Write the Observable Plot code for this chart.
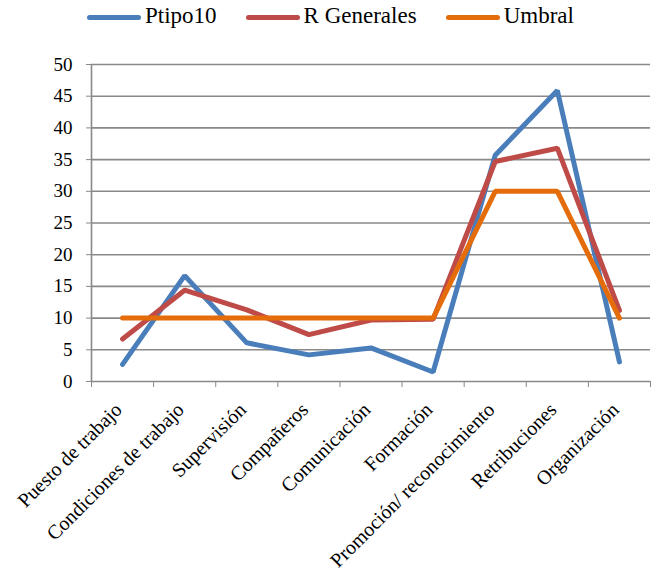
<!DOCTYPE html>
<html><head><meta charset="utf-8">
<script src="https://cdn.jsdelivr.net/npm/d3@7"></script>
<script src="https://cdn.jsdelivr.net/npm/@observablehq/plot@0.6"></script>
<style>
body{margin:0;background:#fff;font-family:'Liberation Serif','Times New Roman',Times,'DejaVu Serif',serif;}
#legend{height:35px;box-sizing:border-box;padding-bottom:3px;display:flex;align-items:center;padding-left:87px;font-size:23px;color:#000;}
.item{display:flex;align-items:center;margin-right:29px;}
.sw{width:54px;height:5px;border-radius:3px;margin-right:4px;margin-top:2px;}
</style></head><body>
<div id="legend"></div>
<div id="chart"></div>
<script>
const categories = ["Puesto de trabajo","Condiciones de trabajo","Supervisión","Compañeros","Comunicación","Formación","Promoción/ reconocimiento","Retribuciones","Organización"];
const ptipo10 = [2.7,16.7,6.1,4.2,5.3,1.5,35.7,45.9,3.1];
const rGenerales = [6.7,14.4,11.3,7.4,9.7,9.8,34.7,36.8,11.2];
const umbral = [10,10,10,10,10,10,30,30,10];
const seriesNames = ["Ptipo10","R Generales","Umbral"];
const seriesColors = ["#4a7ebb","#be4b48","#e46c0a"];
const yTicks = [0,5,10,15,20,25,30,35,40,45,50];

const seriesValues = [ptipo10, rGenerales, umbral];
const idx = categories.map((_, i) => i);
const bounds = d3.range(-0.5, categories.length, 1);
const FONT = "'Liberation Serif','Times New Roman',Times,'DejaVu Serif',serif";

const legend = document.getElementById("legend");
seriesNames.forEach((n, k) => {
  const it = document.createElement("div"); it.className = "item";
  const sw = document.createElement("div"); sw.className = "sw"; sw.style.background = seriesColors[k];
  const t = document.createElement("span"); t.textContent = n;
  it.append(sw, t); legend.append(it);
});

const grid = "#898989";
const chart = Plot.plot({
  width: 652, height: 540,
  marginLeft: 91, marginRight: 2, marginTop: 29, marginBottom: 194,
  style: {fontFamily: FONT, color: "#000", background: "#fff"},
  x: {type: "linear", domain: [-0.5, categories.length - 0.5]},
  y: {domain: [0, 50]},
  marks: [
    Plot.ruleY(yTicks, {stroke: grid, strokeWidth: 1.6}),
    Plot.ruleX([-0.5], {y1: 0, y2: 50, stroke: grid, strokeWidth: 1.6}),
    Plot.axisY(yTicks, {tickSize: 5, tickPadding: 14, stroke: grid, fontSize: 19, fontFamily: FONT, label: null, tickFormat: d => d}),
    Plot.axisX(bounds, {tickSize: 6, stroke: grid, tickFormat: () => "", label: null}),
    Plot.axisX(idx, {tickSize: 0, tickRotate: -45, tickPadding: 25, dx: -4, fontSize: 20, fontFamily: FONT, label: null, tickFormat: i => categories[i]}),
    ...seriesValues.map((vals, k) => Plot.line(idx, {
      x: i => i, y: i => vals[i], stroke: seriesColors[k], strokeWidth: 5,
      strokeLinecap: "round", strokeLinejoin: "miter"
    }))
  ]
});
document.getElementById("chart").append(chart);
</script>
</body></html>
